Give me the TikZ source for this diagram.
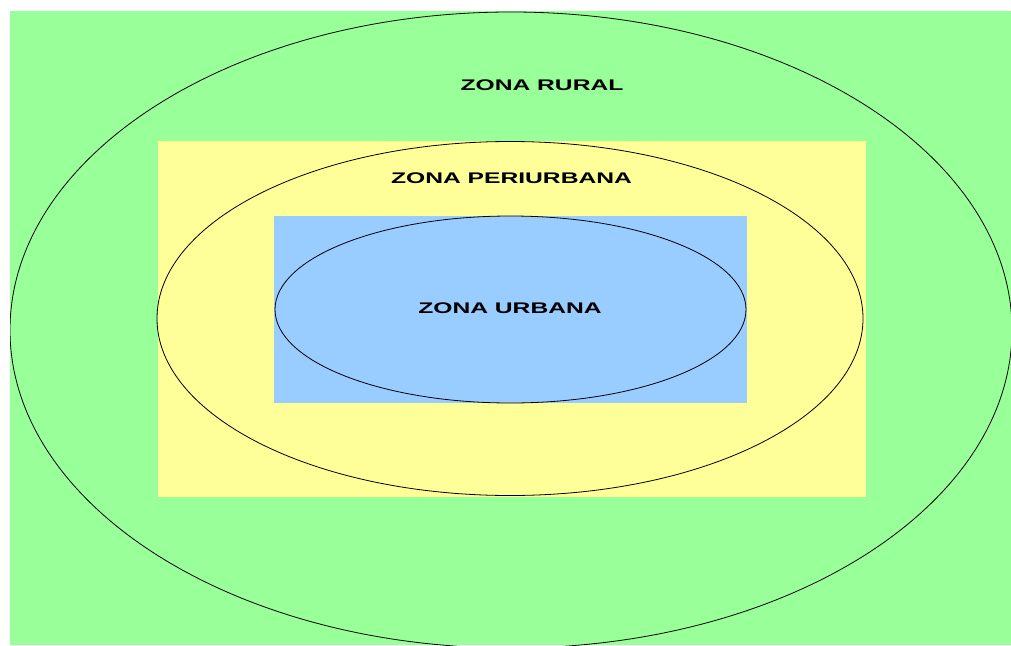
\documentclass[tikz,border=0pt]{standalone}
\usepackage{fontspec}
\newfontfamily\zonafont{Liberation Sans}[FakeStretch=1.6]
\definecolor{ruralgreen}{HTML}{99FF99}
\definecolor{periyellow}{HTML}{FFFF99}
\definecolor{urbanblue}{HTML}{99CCFF}
\begin{document}
\begin{tikzpicture}[
        x=1pt, y=-1pt,
        ring/.style={draw=black, line width=0.8pt},
        label/.style={inner sep=0pt, font=\zonafont\bfseries\fontsize{15.4}{16}\selectfont}]
        \useasboundingbox (0,0) rectangle (1011,645);
        % areas
        \fill[ruralgreen] (10,11) rectangle (1011,645);
        \begin{scope}
            \clip (10,11) rectangle (1011,645);
            \draw[ring] (511,330) ellipse [x radius=501, y radius=318];
        \end{scope}
        \fill[periyellow] (158,141) rectangle (866,497);
        \draw[ring] (510,318.5) ellipse [x radius=353, y radius=177];
        \fill[urbanblue] (274,216) rectangle (747,403);
        \draw[ring] (510.5,309.5) ellipse [x radius=235.5, y radius=93.5];
        % names
        \node[label] (rural) at (542,85.5) {ZONA RURAL};
        \node[label] (peri) at (511.5,178.5) {ZONA PERIURBANA};
        \node[label] (urbana) at (510,308.4) {ZONA URBANA};
\end{tikzpicture}
\end{document}
